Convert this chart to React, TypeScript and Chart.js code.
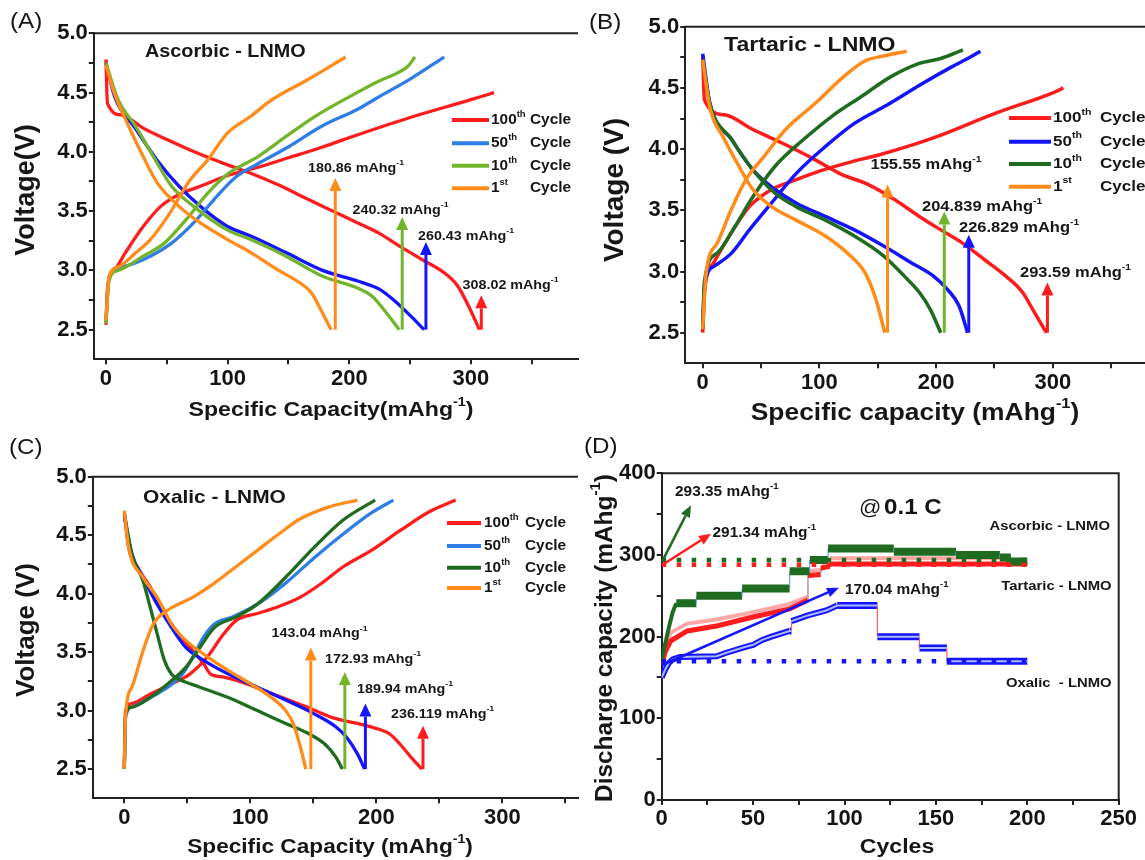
import React, { useEffect, useRef } from "react";
import { Chart, registerables } from "chart.js";
Chart.register(...registerables);

const FONT = "'Liberation Sans', Arial, Helvetica, sans-serif";
const CW = 1145;
const CH = 860;

// ---------------- shared ticks ----------------
const capMajor = [0, 100, 200, 300];
const capMinor = [50, 150, 250, 350];
const capLabels = ["0", "100", "200", "300"];
const voltMajor = [2.5, 3.0, 3.5, 4.0, 4.5, 5.0];
const voltMinor = [2.75, 3.25, 3.75, 4.25, 4.75];
const voltLabels = ["2.5", "3.0", "3.5", "4.0", "4.5", "5.0"];
const cycMajor = [0, 50, 100, 150, 200, 250];
const cycMinor = [25, 75, 125, 175, 225];
const cycLabels = ["0", "50", "100", "150", "200", "250"];
const dcMajor = [0, 100, 200, 300, 400];
const dcMinor = [50, 150, 250, 350];
const dcLabels = ["0", "100", "200", "300", "400"];

// ---------------- Panel A : Ascorbic - LNMO ----------------
const ascorbic100Dis = [[0,4.78],[1.2,4.41],[13,4.31],[30.6,4.2],[51,4.1],[75,3.99],[100,3.89],[119,3.82],[142,3.72],[166,3.6],[186.5,3.5],[207,3.4],[225,3.31],[242,3.2],[260,3.09],[278,2.98],[289,2.87],[298,2.7],[307,2.5]];
const ascorbic100Chg = [[0,2.54],[1.2,2.84],[7,3.0],[16,3.15],[30.6,3.37],[45,3.54],[60,3.64],[77.6,3.71],[100,3.8],[125,3.87],[150,3.95],[175,4.03],[200,4.12],[250,4.29],[300,4.44],[319,4.5]];
const ascorbic50Dis = [[0,4.75],[7,4.47],[24.7,4.19],[42,3.93],[60,3.71],[77.6,3.54],[100,3.37],[119,3.29],[148,3.15],[178,3.0],[207,2.91],[225,2.84],[236.5,2.75],[251,2.61],[261.5,2.5]];
const ascorbic50Chg = [[0,2.58],[2.6,2.95],[13,3.03],[36.5,3.12],[54,3.23],[72,3.4],[89,3.6],[107,3.79],[125,3.9],[148,4.03],[178,4.22],[207,4.36],[222,4.45],[251,4.62],[278,4.8]];
const ascorbic10Dis = [[0,4.75],[10,4.44],[24.7,4.21],[39,3.96],[54,3.71],[72,3.54],[100,3.34],[119,3.26],[148,3.12],[178,2.95],[207,2.85],[219,2.78],[230.6,2.64],[241,2.5]];
const ascorbic10Chg = [[0,2.55],[2.6,2.92],[10,3.0],[30.6,3.12],[48,3.23],[66,3.43],[83.5,3.65],[101,3.82],[125,3.96],[148,4.13],[172,4.3],[201,4.47],[225,4.6],[236.5,4.65],[248,4.72],[254,4.8]];
const ascorbic1Dis = [[0,4.73],[7,4.49],[19,4.21],[30.6,3.96],[42,3.74],[60,3.54],[77.6,3.4],[100,3.26],[119,3.15],[142,3.0],[160,2.89],[169,2.81],[178,2.64],[185,2.5]];
const ascorbic1Chg = [[0,2.58],[2.6,2.95],[10,3.03],[24.7,3.15],[36.5,3.26],[51,3.46],[69,3.76],[83.5,3.93],[100,4.16],[119,4.3],[136.5,4.44],[166,4.61],[197,4.8]];
const ascorbicArrowX = [308.5, 263, 243.5, 188.5];
const ascorbicArrowTop = [2.79, 3.24, 3.45, 3.78];
const ascorbicCapLabels = ["308.02", "260.43", "240.32", "180.86"];

// ---------------- Panel B : Tartaric - LNMO ----------------
const tartaric100Dis = [[0,4.76],[1.5,4.4],[18.6,4.28],[43,4.16],[68,4.05],[93,3.93],[117.5,3.8],[142,3.71],[164,3.59],[185.6,3.45],[204,3.34],[223,3.23],[241,3.1],[260,2.96],[274,2.83],[284.6,2.66],[294.5,2.5]];
const tartaric100Chg = [[0,2.5],[1.5,2.83],[9.3,3.07],[24.7,3.32],[40,3.53],[59,3.67],[80,3.75],[100,3.82],[125,3.89],[150,3.95],[175,4.02],[200,4.1],[250,4.29],[300,4.46],[309,4.5]];
const tartaric50Dis = [[0,4.78],[6,4.38],[24.7,4.08],[43,3.83],[62,3.67],[80,3.56],[105,3.45],[130,3.34],[154.7,3.21],[179,3.07],[198,2.96],[210,2.85],[219.6,2.72],[227,2.5]];
const tartaric50Chg = [[0,2.53],[1.5,2.88],[9.3,3.04],[24.7,3.15],[40,3.34],[59,3.56],[80,3.8],[105,4.02],[130,4.21],[158,4.36],[189,4.54],[213,4.67],[229,4.75],[238,4.8]];
const tartaric10Dis = [[0,4.73],[6,4.38],[24.7,4.08],[43,3.83],[62,3.64],[80,3.53],[105,3.42],[130,3.29],[154.7,3.13],[173,2.96],[185.6,2.83],[195,2.69],[204,2.5]];
const tartaric10Chg = [[0,2.53],[1.5,2.92],[12.4,3.15],[27.8,3.37],[43,3.61],[62,3.86],[86.6,4.08],[111,4.27],[136,4.43],[161,4.59],[185.6,4.7],[204,4.74],[223,4.81]];
const tartaric1Dis = [[0,4.73],[6,4.35],[18.6,4.08],[31,3.86],[43,3.67],[59,3.53],[80,3.42],[105,3.29],[124,3.15],[139,2.99],[148.5,2.77],[156,2.5]];
const tartaric1Chg = [[0,2.53],[3,2.99],[12.4,3.23],[24.7,3.51],[37,3.75],[52.6,3.94],[71,4.16],[96,4.37],[120.6,4.59],[139,4.72],[154.7,4.76],[174.8,4.8]];
const tartaricArrowX = [295.4, 228, 207, 158.4];
const tartaricArrowTop = [2.91, 3.3, 3.49, 3.71];
const tartaricCapLabels = ["293.59", "226.829", "204.839", "155.55"];

// ---------------- Panel C : Oxalic - LNMO ----------------
const oxalic100Dis = [[0,4.69],[3.4,4.4],[12,4.2],[20.4,4.06],[31.8,3.83],[43,3.66],[54.5,3.51],[63,3.4],[68.7,3.31],[77,3.29],[94,3.24],[111,3.17],[128,3.1],[145,3.03],[165,2.94],[185,2.89],[202,2.84],[210.6,2.8],[219,2.71],[227.6,2.6],[236,2.5]];
const oxalic100Chg = [[0,2.5],[1,3.0],[6,3.06],[20.4,3.14],[37.5,3.23],[51.7,3.31],[66,3.46],[77,3.63],[88.6,3.77],[105.6,3.83],[122.6,3.89],[139.7,3.97],[156.7,4.09],[173.7,4.23],[196,4.37],[219,4.54],[242,4.7],[263,4.8]];
const oxalic50Dis = [[0,4.66],[6,4.34],[14.8,4.14],[26,3.91],[37.5,3.71],[48.8,3.54],[63,3.43],[83,3.31],[105.6,3.2],[128,3.09],[151,2.97],[168,2.86],[176.5,2.77],[185,2.63],[190.7,2.5]];
const oxalic50Chg = [[0,2.5],[1,2.94],[6,3.03],[20.4,3.11],[34.6,3.2],[46,3.31],[54.5,3.46],[63,3.63],[71.5,3.74],[85.7,3.8],[105.6,3.91],[128,4.09],[151,4.31],[173.7,4.51],[196,4.69],[213.5,4.8]];
const oxalic10Dis = [[0,4.69],[6,4.34],[14.8,4.11],[20.4,3.89],[26,3.66],[31.8,3.43],[37.5,3.31],[43,3.27],[60,3.2],[83,3.11],[105.6,3.0],[128,2.89],[145,2.81],[159.5,2.71],[168,2.6],[173,2.5]];
const oxalic10Chg = [[0,2.5],[1,2.97],[6,3.03],[20.4,3.11],[34.6,3.23],[48.8,3.37],[60,3.54],[71.5,3.71],[88.6,3.8],[105.6,3.91],[128,4.14],[151,4.4],[173.7,4.63],[199,4.8]];
const oxalic1Dis = [[0,4.71],[3.4,4.4],[14.8,4.14],[26,3.97],[37.5,3.74],[48.8,3.6],[66,3.46],[83,3.34],[100,3.23],[117,3.11],[128,3.0],[134,2.89],[139.7,2.69],[144,2.5]];
const oxalic1Chg = [[0,2.5],[1,2.95],[6,3.2],[14.8,3.51],[23,3.74],[34.6,3.86],[54.5,3.97],[71.5,4.09],[88.6,4.23],[105.6,4.37],[122.6,4.51],[139.7,4.64],[162,4.74],[185,4.8]];
const oxalicArrowX = [237, 191.3, 175, 148];
const oxalicArrowTop = [2.87, 3.06, 3.33, 3.54];
const oxalicCapLabels = ["236.119", "189.94", "172.93", "143.04"];

// ---------------- Panel D : cycling ----------------
const ascorbicCycling = [[0,172],[2,192],[4,212],[6,230],[8,241],[19,241],[19,250],[44,250],[44,259],[70,259],[70,280],[81,280],[81,294],[91,294],[91,308],[127,308],[127,304],[161,304],[161,300],[185,300],[185,297],[191,297],[191,292],[200,292]];
const tartaricCycling = [[0,165],[2,182],[5,195],[14,207],[30,213],[50,224],[70,234],[80,245],[80,275],[87,276],[87,284],[92,286],[92,289],[200,289]];
const tartaricCyclingUpper = [[2,190],[5,205],[14,216],[30,221],[50,230],[70,240],[80,249],[80,280],[88,282],[88,290],[92,292],[92,296],[190,296]];
const oxalicCycling = [[0,150],[2,160],[4,168],[6,172],[10,175],[30,176],[35,180],[45,187],[50,190],[55,196],[60,200],[70,207],[71,207],[71,219],[80,226],[90,232],[96,238],[118,238],[118,200],[141,200],[141,186],[156,186],[156,170],[200,170]];
const ascorbicRef = [[0,294],[200,294]];
const tartaricRef = [[0,288],[200,288]];
const oxalicRef = [[0,170],[200,170]];
const ascorbicArrowD = [[0.5,293],[16,361]];
const tartaricArrowD = [[0.5,288],[27,326]];
const oxalicArrowD = [[0,165],[97,260]];
const cycleLabels = ["100^{th}", "50^{th}", "10^{th}", "1^{st}"];

// ---------------- colours ----------------
const RED = "#ff1c1c";
const ORANGE = "#ff8c1a";
const BLUE = "#1414ff";
const AZURE = "#2f7ee6";
const LIME = "#72b42c";
const DGREEN = "#1f6b1f";

// ---------------- drawing helpers ----------------
function parseRich(s: string) {
  const out: any[] = [];
  const re = /\^\{([^}]*)\}/g;
  let last = 0;
  let m: any;
  while ((m = re.exec(s))) {
    if (m.index > last) out.push({ t: s.slice(last, m.index), sup: false });
    out.push({ t: m[1], sup: true });
    last = re.lastIndex;
  }
  if (last < s.length) out.push({ t: s.slice(last), sup: false });
  return out;
}

function drawRich(ctx: CanvasRenderingContext2D, t: any) {
  const segs = parseRich(t.s);
  const weight = t.bold === false ? "normal" : "bold";
  const f = (sup: boolean) => `${weight} ${sup ? t.size * 0.62 : t.size}px ${FONT}`;
  let total = 0;
  segs.forEach((sg) => {
    ctx.font = f(sg.sup);
    sg.w = ctx.measureText(sg.t).width;
    total += sg.w;
  });
  const sx = t.sx ?? 1.1;
  const align = t.align || "left";
  ctx.save();
  ctx.translate(t.x, t.y);
  if (t.rot) ctx.rotate(-Math.PI / 2);
  ctx.scale(sx, 1);
  let cx = align === "left" ? 0 : align === "center" ? -total / 2 : -total;
  ctx.fillStyle = t.color || "#161616";
  ctx.textBaseline = "middle";
  ctx.textAlign = "left";
  segs.forEach((sg) => {
    ctx.font = f(sg.sup);
    ctx.fillText(sg.t, cx, sg.sup ? -t.size * 0.38 : 0);
    cx += sg.w;
  });
  ctx.restore();
}

function drawArrow(ctx: CanvasRenderingContext2D, x0: number, y0: number, x1: number, y1: number, color: string, w: number, headLen = 13, headHalf = 6) {
  const ang = Math.atan2(y1 - y0, x1 - x0);
  const bx = x1 - headLen * Math.cos(ang);
  const by = y1 - headLen * Math.sin(ang);
  ctx.save();
  ctx.strokeStyle = color;
  ctx.fillStyle = color;
  ctx.lineWidth = w;
  ctx.lineCap = "butt";
  ctx.beginPath();
  ctx.moveTo(x0, y0);
  ctx.lineTo(bx, by);
  ctx.stroke();
  ctx.beginPath();
  ctx.moveTo(x1, y1);
  ctx.lineTo(bx + headHalf * Math.sin(ang), by - headHalf * Math.cos(ang));
  ctx.lineTo(bx - headHalf * Math.sin(ang), by + headHalf * Math.cos(ang));
  ctx.closePath();
  ctx.fill();
  ctx.restore();
}

function makeDecor(spec: any) {
  return {
    id: "decor_" + spec.key,
    afterDatasetsDraw(chart: any) {
      const { ctx } = chart;
      const xs = chart.scales.x;
      const ys = chart.scales.y;
      (spec.arrows || []).forEach((a: any) => {
        drawArrow(ctx, xs.getPixelForValue(a.from[0]), ys.getPixelForValue(a.from[1]), xs.getPixelForValue(a.to[0]), ys.getPixelForValue(a.to[1]), a.color, a.width, a.head || 13, a.half || 6);
      });
    },
    afterDraw(chart: any) {
      const { ctx, chartArea: ca } = chart;
      ctx.save();
      ctx.strokeStyle = "#222";
      ctx.lineWidth = 2;
      ctx.beginPath();
      ctx.moveTo(ca.left - 1, ca.top);
      ctx.lineTo(ca.right, ca.top);
      if (spec.rightBorder) ctx.lineTo(ca.right, ca.bottom + 1);
      ctx.stroke();
      ctx.restore();
      if (spec.legend) {
        const lg = spec.legend;
        lg.colors.forEach((c: string, i: number) => {
          const y = lg.ys[i];
          ctx.save();
          ctx.strokeStyle = c;
          ctx.lineWidth = 4;
          ctx.beginPath();
          ctx.moveTo(lg.x0, y);
          ctx.lineTo(lg.x1, y);
          ctx.stroke();
          ctx.restore();
          drawRich(ctx, { s: lg.labels[i], x: lg.tx, y, size: lg.size });
          drawRich(ctx, { s: "Cycle", x: lg.cx, y, size: lg.size });
        });
      }
      (spec.texts || []).forEach((t: any) => drawRich(ctx, t));
    },
  };
}

function axisOpts(isX: boolean, min: number, max: number, major: number[], minor: number[], labels: string[], size = 22) {
  return {
    type: "linear",
    position: isX ? "bottom" : "left",
    min,
    max,
    afterFit: (s: any) => {
      if (isX) s.height = 40;
      else s.width = 60;
    },
    afterBuildTicks: (s: any) => {
      s.ticks = [...major, ...minor].sort((a, b) => a - b).map((v) => ({ value: v }));
    },
    ticks: {
      autoSkip: false,
      maxRotation: 0,
      minRotation: 0,
      padding: 1,
      color: "#141414",
      font: { family: FONT, size, weight: "bold" },
      callback: (v: number) => {
        const i = major.indexOf(v);
        return i >= 0 ? labels[i] : "";
      },
    },
    grid: { drawOnChartArea: false, drawTicks: true, tickLength: 5, color: "#222", lineWidth: 2 },
    border: { display: true, color: "#222", width: 2 },
  };
}

function padFor(area: any) {
  return { left: area.left - 60, top: area.top, right: CW - area.right, bottom: CH - area.bottom - 40 };
}

function pts(arr: number[][]) {
  return arr.map(([x, y]) => ({ x, y }));
}

function voltageConfig(p: any) {
  return {
    type: "line",
    data: {
      datasets: p.curves.map((c: any) => ({
        data: pts(c.data),
        borderColor: c.color,
        borderWidth: p.lw,
        pointRadius: 0,
        fill: false,
        cubicInterpolationMode: "monotone",
      })),
    },
    options: {
      responsive: false,
      animation: false,
      devicePixelRatio: 1,
      events: [],
      layout: { padding: padFor(p.area) },
      plugins: { legend: { display: false }, tooltip: { enabled: false } },
      scales: {
        x: axisOpts(true, p.xMin, p.xMax, capMajor, capMinor, capLabels),
        y: axisOpts(false, 2.25, 5.0, voltMajor, voltMinor, voltLabels),
      },
    },
    plugins: [makeDecor(p)],
  };
}

function arrowsFor(xsArr: number[], tops: number[], colors: string[]) {
  return xsArr.map((x, i) => ({ from: [x, 2.5], to: [x, tops[i]], color: colors[i], width: 3, head: 13, half: 6 }));
}

function capTexts(labels: string[], pos: number[][], size: number) {
  return labels.map((l, i) => ({ s: `${l} mAhg^{-1}`, x: pos[i][0], y: pos[i][1], size }));
}

const panelA = {
  key: "A",
  area: { left: 93.8, top: 33.3, right: 578, bottom: 359.3 },
  xMin: -10,
  xMax: 388,
  lw: 3.3,
  curves: [
    { data: ascorbic1Chg, color: ORANGE },
    { data: ascorbic1Dis, color: ORANGE },
    { data: ascorbic10Chg, color: LIME },
    { data: ascorbic10Dis, color: LIME },
    { data: ascorbic50Chg, color: AZURE },
    { data: ascorbic50Dis, color: BLUE },
    { data: ascorbic100Chg, color: RED },
    { data: ascorbic100Dis, color: RED },
  ],
  arrows: arrowsFor(ascorbicArrowX, ascorbicArrowTop, [RED, BLUE, LIME, ORANGE]),
  legend: { colors: [RED, AZURE, LIME, ORANGE], labels: cycleLabels, x0: 452, x1: 489, tx: 491, cx: 530, ys: [120, 143.3, 165.7, 188.3], size: 14 },
  texts: [
    { s: "(A)", x: 10, y: 22, size: 22, bold: false },
    { s: "Ascorbic - LNMO", x: 145, y: 52, size: 18 },
    ...capTexts(ascorbicCapLabels, [[462.6, 285], [418, 236], [352.6, 210], [308, 168]], 13),
    { s: "Specific Capacity(mAhg^{-1})", x: 331, y: 410, size: 21, align: "center" },
    { s: "Voltage(V)", x: 27, y: 190, size: 27, align: "center", rot: true, sx: 1 },
  ],
};

const panelB = {
  key: "B",
  area: { left: 685.2, top: 26.7, right: 1145, bottom: 363.3 },
  xMin: -15,
  xMax: 379,
  lw: 3.5,
  curves: [
    { data: tartaric1Chg, color: ORANGE },
    { data: tartaric1Dis, color: ORANGE },
    { data: tartaric10Chg, color: DGREEN },
    { data: tartaric10Dis, color: DGREEN },
    { data: tartaric50Chg, color: BLUE },
    { data: tartaric50Dis, color: BLUE },
    { data: tartaric100Chg, color: RED },
    { data: tartaric100Dis, color: RED },
  ],
  arrows: arrowsFor(tartaricArrowX, tartaricArrowTop, [RED, BLUE, LIME, ORANGE]),
  legend: { colors: [RED, BLUE, DGREEN, ORANGE], labels: cycleLabels, x0: 1009, x1: 1051, tx: 1053, cx: 1100, ys: [118, 141.7, 164, 186.7], size: 15.5 },
  texts: [
    { s: "(B)", x: 589, y: 23, size: 22, bold: false },
    { s: "Tartaric - LNMO", x: 724, y: 45, size: 21 },
    ...capTexts(tartaricCapLabels, [[1020, 273], [959, 228], [922, 206.7], [870.5, 165]], 15),
    { s: "Specific capacity (mAhg^{-1})", x: 915, y: 413, size: 24, align: "center" },
    { s: "Voltage (V)", x: 615, y: 190, size: 28, align: "center", rot: true, sx: 1 },
  ],
};

const panelC = {
  key: "C",
  area: { left: 92.8, top: 476.7, right: 578, bottom: 798.3 },
  xMin: -25,
  xMax: 360,
  lw: 3.3,
  curves: [
    { data: oxalic1Chg, color: ORANGE },
    { data: oxalic1Dis, color: ORANGE },
    { data: oxalic10Chg, color: DGREEN },
    { data: oxalic10Dis, color: DGREEN },
    { data: oxalic50Chg, color: AZURE },
    { data: oxalic50Dis, color: BLUE },
    { data: oxalic100Chg, color: RED },
    { data: oxalic100Dis, color: RED },
  ],
  arrows: arrowsFor(oxalicArrowX, oxalicArrowTop, [RED, BLUE, LIME, ORANGE]),
  legend: { colors: [RED, AZURE, DGREEN, ORANGE], labels: cycleLabels, x0: 447, x1: 481, tx: 484, cx: 525, ys: [523, 546, 567.7, 588], size: 14 },
  texts: [
    { s: "(C)", x: 9, y: 448, size: 22, bold: false },
    { s: "Oxalic - LNMO", x: 143, y: 498, size: 19 },
    ...capTexts(oxalicCapLabels, [[391, 714], [357, 689], [325, 659], [271.6, 633.3]], 13),
    { s: "Specific Capacity (mAhg^{-1})", x: 330, y: 847, size: 20.6, align: "center" },
    { s: "Voltage (V)", x: 27, y: 630, size: 26, align: "center", rot: true, sx: 1 },
  ],
};

function bandSegment(flat: number, slope: number, vertColor?: string) {
  return {
    borderWidth: (ctx: any) => {
      const dx = Math.abs(ctx.p1.parsed.x - ctx.p0.parsed.x);
      const dy = Math.abs(ctx.p1.parsed.y - ctx.p0.parsed.y);
      if (dx < 0.01) return 1.2;
      return dy < 0.01 ? flat : slope;
    },
    borderColor: (ctx: any) => {
      const dx = Math.abs(ctx.p1.parsed.x - ctx.p0.parsed.x);
      return dx < 0.01 && vertColor ? vertColor : undefined;
    },
  };
}

function cycleConfig() {
  const dotted = (data: number[][], color: string) => ({
    data: pts(data),
    borderColor: color,
    borderWidth: 4.5,
    borderDash: [4.5, 10.5],
    pointRadius: 0,
    fill: false,
  });
  const band = (data: number[][], color: string, flat: number, slope: number, vert?: string) => ({
    data: pts(data),
    borderColor: color,
    borderWidth: flat,
    pointRadius: 0,
    fill: false,
    tension: 0,
    segment: bandSegment(flat, slope, vert),
  });
  const spec = {
    key: "D",
    rightBorder: true,
    arrows: [
      { from: ascorbicArrowD[0], to: ascorbicArrowD[1], color: DGREEN, width: 2.5, head: 12, half: 5 },
      { from: tartaricArrowD[0], to: tartaricArrowD[1], color: RED, width: 2.5, head: 12, half: 5 },
      { from: oxalicArrowD[0], to: oxalicArrowD[1], color: BLUE, width: 2.5, head: 12, half: 5 },
    ],
    texts: [
      { s: "(D)", x: 584, y: 447, size: 22, bold: false },
      { s: "293.35 mAhg^{-1}", x: 675, y: 491.7, size: 14 },
      { s: "291.34 mAhg^{-1}", x: 712.5, y: 533, size: 14 },
      { s: "170.04 mAhg^{-1}", x: 845, y: 590, size: 14 },
      { s: "@", x: 859, y: 508, size: 20, bold: false },
      { s: "0.1 C", x: 884, y: 508, size: 22 },
      { s: "Ascorbic - LNMO", x: 1110, y: 526, size: 13.5, align: "right" },
      { s: "Tartaric - LNMO", x: 1111.6, y: 586.7, size: 13.5, align: "right" },
      { s: "Oxalic  - LNMO", x: 1111.6, y: 683, size: 13.5, align: "right" },
      { s: "Cycles", x: 897, y: 847, size: 21, align: "center" },
      { s: "Discharge capacity (mAhg^{-1})", x: 605, y: 638, size: 24.4, align: "center", rot: true, sx: 1 },
    ],
  };
  const area = { left: 661.7, top: 473.3, right: 1118.7, bottom: 800 };
  return {
    type: "line",
    data: {
      datasets: [
        dotted(ascorbicRef, DGREEN),
        dotted(tartaricRef, RED),
        dotted(oxalicRef, BLUE),
        band(ascorbicCycling, DGREEN, 8, 4, "#6fa0e8"),
        band(oxalicCycling, "#aab8ff", 2, 2, "rgba(0,0,0,0)"),
        band(oxalicCycling, BLUE, 7, 6, "#ff6060"),
        band(tartaricCycling, RED, 5, 5, "#999999"),
        band(tartaricCyclingUpper, "#ffa6a6", 4, 4, "#ffb0b0"),
      ],
    },
    options: {
      responsive: false,
      animation: false,
      devicePixelRatio: 1,
      events: [],
      layout: { padding: padFor(area) },
      plugins: { legend: { display: false }, tooltip: { enabled: false } },
      scales: {
        x: axisOpts(true, 0, 250, cycMajor, cycMinor, cycLabels),
        y: axisOpts(false, 0, 400, dcMajor, dcMinor, dcLabels),
      },
    },
    plugins: [makeDecor(spec)],
  };
}

export default function App() {
  const r0 = useRef<HTMLCanvasElement>(null);
  const r1 = useRef<HTMLCanvasElement>(null);
  const r2 = useRef<HTMLCanvasElement>(null);
  const r3 = useRef<HTMLCanvasElement>(null);
  useEffect(() => {
    const configs: any[] = [voltageConfig(panelA), voltageConfig(panelB), voltageConfig(panelC), cycleConfig()];
    const refs = [r0, r1, r2, r3];
    const charts = configs.map((cfg, i) => new Chart(refs[i].current as HTMLCanvasElement, cfg));
    return () => charts.forEach((c) => c.destroy());
  }, []);
  const cs: any = { position: "absolute", left: 0, top: 0, width: CW, height: CH };
  return (
    <div style={{ position: "fixed", left: 0, top: 0, width: CW, height: CH, background: "#fff", overflow: "hidden" }}>
      <canvas ref={r0} width={CW} height={CH} style={cs} />
      <canvas ref={r1} width={CW} height={CH} style={cs} />
      <canvas ref={r2} width={CW} height={CH} style={cs} />
      <canvas ref={r3} width={CW} height={CH} style={cs} />
    </div>
  );
}
